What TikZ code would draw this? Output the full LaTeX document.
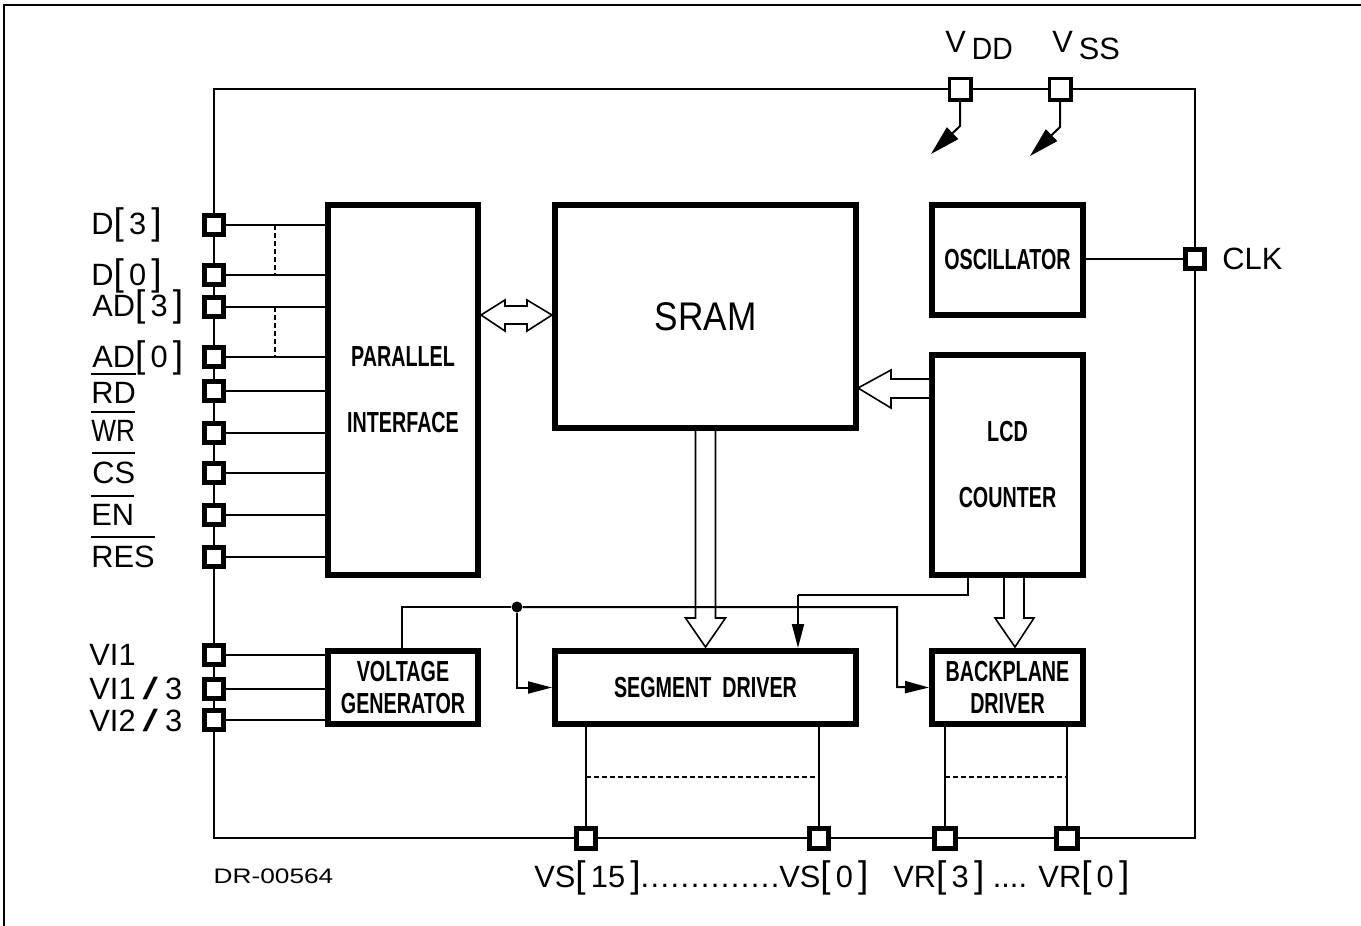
\documentclass[tikz,border=0pt]{standalone}
\usepackage{fontspec}
\usepackage{tikz}
\usetikzlibrary{arrows.meta, calc}
\setmainfont{Liberation Sans}
\newfontfamily\blockfont[FakeStretch=0.68]{Liberation Sans}
\newfontfamily\sramfont[FakeStretch=0.88]{Liberation Sans}
\newfontfamily\notefont[FakeStretch=1.25]{Liberation Sans}
\newcommand{\tallbrk}[1]{{\fontsize{18.5}{20}\selectfont #1}}
\newcommand{\idx}[1]{\tallbrk{[}\kern2.6pt #1\kern2.6pt\tallbrk{]}}
\newcommand{\negbar}[1]{\vbox{\hrule height 1pt\kern3.5pt\hbox{#1}}}
\newcommand{\wideslash}{\kern3.5pt\scalebox{1.8}[1]{/}\kern3.5pt}
\newcommand{\spaceddots}[1]{{\addfontfeatures{LetterSpace=4.7}#1}}

\begin{document}
\begin{tikzpicture}[
    x=0.5pt, y=-0.5pt,
    wire/.style={draw=black, line width=1pt},
    dashwire/.style={draw=black, line width=0.9pt, dash pattern=on 2.5pt off 1.5pt},
    bus/.style={draw=black, line width=0.8pt, fill=white, line join=miter},
    signal/.style={wire, -{Triangle[length=12pt,width=6pt]}},
    supply/.style={wire, -{Triangle[length=15pt,width=8pt]}},
    block/.style={rectangle, draw=black, line width=3pt, fill=white, inner sep=0pt, align=center, font=\blockfont\bfseries\fontsize{14.5}{16}\selectfont},
    padbox/.style={rectangle, draw=black, line width=2.5pt, fill=white, inner sep=0pt, minimum size=9.75pt},
    padlabel/.style={anchor=base west, inner sep=0pt, font=\fontsize{15.4}{18}\selectfont}
]
\useasboundingbox (0,0) rectangle (1361,926);

% Sheet edge
\coordinate (sheetnw) at (4,5);
\draw[wire] (1361,5) -- (sheetnw) -- (4,926);

% Chip outline
\node[rectangle, draw=black, line width=1pt, inner sep=0pt, minimum width=490.5pt, minimum height=374.5pt] (chip) at (704.5,463.5) {};

% Blocks
\node[block, minimum width=75pt, minimum height=185pt] (parallel) at (403,390) {PARALLEL\\[17pt]INTERFACE};
\node[block, minimum width=150.5pt, minimum height=111.5pt, font=\sramfont\fontsize{20}{22}\selectfont] (sram) at (705.5,316.5) {SRAM};
\node[block, minimum width=75.5pt, minimum height=55pt] (osc) at (1007.5,260) {OSCILLATOR};
\node[block, minimum width=75.5pt, minimum height=110pt] (lcd) at (1007.5,465) {LCD\\[17pt]COUNTER};
\node[block, minimum width=75pt, minimum height=36.5pt] (volt) at (403,687.5) {VOLTAGE\\GENERATOR};
\node[block, minimum width=150.5pt, minimum height=36.5pt] (seg) at (705.5,687.5) {SEGMENT\ \ DRIVER};
\node[block, minimum width=75.5pt, minimum height=36.5pt] (back) at (1007.5,687.5) {BACKPLANE\\DRIVER};

% Pads, left side
\node[padbox] (d3) at (214,225) {};
\node[padbox] (d0) at (214,275) {};
\node[padbox] (ad3) at (214,307) {};
\node[padbox] (ad0) at (214,357) {};
\node[padbox] (rd) at (214,391) {};
\node[padbox] (wr) at (214,433) {};
\node[padbox] (cs) at (214,473) {};
\node[padbox] (en) at (214,515) {};
\node[padbox] (res) at (214,557) {};
\node[padbox] (vi1) at (214,655) {};
\node[padbox] (vi13) at (214,689) {};
\node[padbox] (vi23) at (214,720) {};

% Pads, top, right and bottom
\node[padbox, line width=1.75pt, minimum size=10.75pt] (vdd) at (960,89) {};
\node[padbox, line width=1.75pt, minimum size=10.75pt] (vss) at (1060,89) {};
\node[padbox] (clk) at (1195,259) {};
\node[padbox, minimum width=9.25pt, minimum height=10.25pt] (vs15) at (586,838.5) {};
\node[padbox, minimum width=9.25pt, minimum height=10.25pt] (vs0) at (819,838.5) {};
\node[padbox, minimum width=10.25pt, minimum height=10.25pt] (vr3) at (945,838.5) {};
\node[padbox, minimum width=10.25pt, minimum height=10.25pt] (vr0) at (1067,838.5) {};

% Pad wires
\draw[wire] (d3) -- (d3 -| parallel.west);
\draw[wire] (d0) -- (d0 -| parallel.west);
\draw[wire] (ad3) -- (ad3 -| parallel.west);
\draw[wire] (ad0) -- (ad0 -| parallel.west);
\draw[wire] (rd) -- (rd -| parallel.west);
\draw[wire] (wr) -- (wr -| parallel.west);
\draw[wire] (cs) -- (cs -| parallel.west);
\draw[wire] (en) -- (en -| parallel.west);
\draw[wire] (res) -- (res -| parallel.west);
\draw[wire] (vi1) -- (vi1 -| volt.west);
\draw[wire] (vi13) -- (vi13 -| volt.west);
\draw[wire] (vi23) -- (vi23 -| volt.west);
\draw[wire] (osc.east |- clk) -- (clk);
\draw[wire] (vs15) -- (vs15 |- seg.south);
\draw[wire] (vs0) -- (vs0 |- seg.south);
\draw[wire] (vr3) -- (vr3 |- back.south);
\draw[wire] (vr0) -- (vr0 |- back.south);

% Dashed groups
\coordinate (tapx) at (275,0);
\coordinate (tapy) at (0,777);
\draw[dashwire] (d3 -| tapx) -- (d0 -| tapx);
\draw[dashwire] (ad3 -| tapx) -- (ad0 -| tapx);
\draw[dashwire] (vs15 |- tapy) -- (vs0 |- tapy);
\draw[dashwire] (vr3 |- tapy) -- (vr0 |- tapy);

% Supply pins
\coordinate (vddbend) at (960,126);
\coordinate (vddend) at (931,154);
\coordinate (vssbend) at (1060,127);
\coordinate (vssend) at (1030,156);
\draw[supply] (vdd) -- (vddbend) -- (vddend);
\draw[supply] (vss) -- (vssbend) -- (vssend);

% Hollow buses
\draw[bus] (parallel.east |- 0,315) -- ++(24,-15) -- ++(0,6) -- ++(22,0) -- ++(0,-6) -- ++(25,15) -- ++(-25,16) -- ++(0,-7) -- ++(-22,0) -- ++(0,7) -- cycle;
\draw[bus] ($(sram.south)+(-10,0)$) -- ++(0,187) -- ++(-10,0) -- ++(20,29) -- ++(20,-29) -- ++(-10,0) -- ++(0,-187);
\draw[bus] (lcd.west |- 0,379) -- ++(-38,0) -- ++(0,-9) -- ++(-33,18) -- ++(33,20) -- ++(0,-10) -- ++(38,0);
\draw[bus] (1004,578) -- ++(0,40) -- ++(-9,0) -- ++(20,29) -- ++(19,-29) -- ++(-10,0) -- ++(0,-40);

% Control lines
\coordinate (lcdtap) at (968,595);
\coordinate (segtap) at (798,595);
\coordinate (railtop) at (402,607);
\coordinate (railend) at (897,607);
\coordinate (railbot) at (897,687);
\node[circle, fill=black, inner sep=0pt, minimum size=5.5pt] (dot) at (517,607) {};
\draw[wire] (lcdtap |- lcd.south) -- (lcdtap) -- (segtap);
\draw[signal] (segtap) -- (segtap |- seg.north);
\draw[wire] (volt.north -| railtop) -- (railtop) -- (dot);
\draw[signal] (dot) -- (dot |- seg.west) -- (seg.west);
\draw[signal] (dot) -- (railend) -- (railbot) -- (back.west);

% Pad labels
\node[padlabel] (t1) at (91,234) {D\idx{3}};
\node[padlabel] (t2) at (91,285) {D\idx{0}};
\node[padlabel] (t3) at (92,316) {AD\idx{3}};
\node[padlabel] (t4) at (92,367) {AD\idx{0}};
\node[padlabel] (t5) at (91,403) {\negbar{RD}};
\node[padlabel] (t6) at (91,441) {\negbar{\scalebox{.85}[1]{WR}}};
\node[padlabel] (t7) at (92,483) {\negbar{CS}};
\node[padlabel] (t8) at (91,525) {\negbar{EN}};
\node[padlabel] (t9) at (91,567) {\negbar{RES}};
\node[padlabel] (t10) at (89,665) {VI1};
\node[padlabel] (t11) at (89,699) {VI1\wideslash 3};
\node[padlabel] (t12) at (89,731) {VI2\wideslash 3};
\node[padlabel] (t13) at (945,52) {V\kern3pt\raisebox{-4pt}{\scalebox{.92}[1]{DD}}};
\node[padlabel] (t14) at (1052,52) {V\kern3pt\raisebox{-4pt}{SS}};
\node[padlabel] (t15) at (1222,269) {CLK};
\node[padlabel] (t16) at (534,887) {VS\idx{15}\spaceddots{..............}VS\idx{0}};
\node[padlabel] (t17) at (893,887) {VR\idx{3} .... VR\idx{0}};
\node[inner sep=0pt, font=\notefont\fontsize{10.5}{12}\selectfont] (drawno) at (273.5,876) {DR-00564};

\end{tikzpicture}
\end{document}
